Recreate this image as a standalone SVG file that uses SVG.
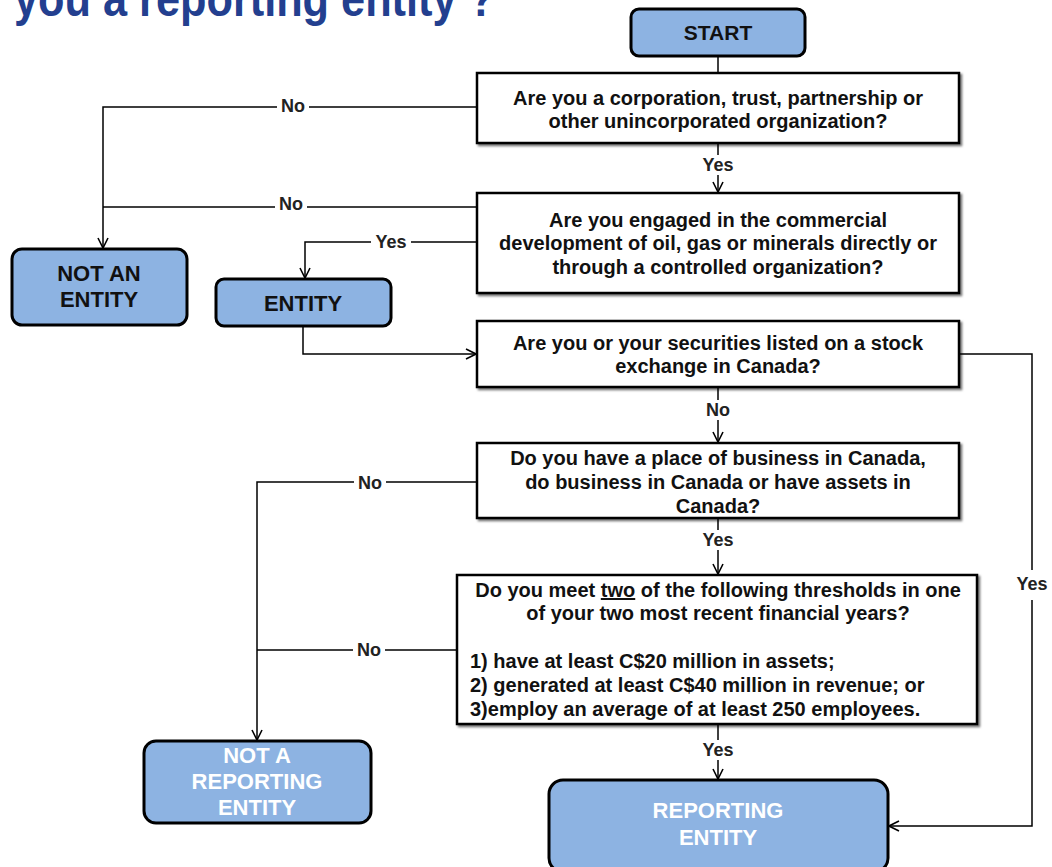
<svg xmlns="http://www.w3.org/2000/svg" width="1052" height="867" viewBox="0 0 1052 867">
<defs>
<marker id="arr" viewBox="0 0 12 12" refX="11" refY="6" markerWidth="12" markerHeight="12" markerUnits="userSpaceOnUse" orient="auto">
<path d="M1,1 L11,6 L1,11" fill="none" stroke="#000" stroke-width="1.6"/>
</marker>
<filter id="sh" x="-5%" y="-5%" width="115%" height="120%">
<feDropShadow dx="2" dy="2" stdDeviation="0.8" flood-color="#000" flood-opacity="0.55"/>
</filter>
</defs>
<style>
.box{fill:#fff;stroke:#000;stroke-width:2.5;filter:url(#sh)}
.term{fill:#8db3e2;stroke:#000;stroke-width:3}
.t{font-family:"Liberation Sans",Arial,sans-serif;font-weight:bold;font-size:20px;fill:#111;text-anchor:middle}
.tl{text-anchor:start}
.tt{font-family:"Liberation Sans",Arial,sans-serif;font-weight:bold;font-size:22px;fill:#111;text-anchor:middle}
.tw{fill:#fff}
.lbl{font-family:"Liberation Sans",Arial,sans-serif;font-weight:bold;font-size:18px;fill:#222;text-anchor:middle}
.c{fill:none;stroke:#000;stroke-width:1.5}
.bg{fill:#fff}
</style>
<rect width="1052" height="867" fill="#fff"/>
<text x="14" y="16" font-family="'Liberation Sans',Arial,sans-serif" font-weight="bold" font-size="50" fill="#233f8f" textLength="481" lengthAdjust="spacingAndGlyphs">you a reporting entity ?</text>

<g id="connectors">
<path class="c" d="M718,56 V73"/>
<path class="c" d="M477,107 H103 V248" marker-end="url(#arr)"/>
<path class="c" d="M477,207 H103"/>
<path class="c" d="M718,143 V192" marker-end="url(#arr)"/>
<path class="c" d="M477,242 H305 V278" marker-end="url(#arr)"/>
<path class="c" d="M303,326 V354 H476" marker-end="url(#arr)"/>
<path class="c" d="M959,354 H1032 V826 H889" marker-end="url(#arr)"/>
<path class="c" d="M718,387 V442" marker-end="url(#arr)"/>
<path class="c" d="M477,482 H257 V740" marker-end="url(#arr)"/>
<path class="c" d="M718,518 V574" marker-end="url(#arr)"/>
<path class="c" d="M457,650 H257"/>
<path class="c" d="M718,724 V779" marker-end="url(#arr)"/>
<rect class="bg" x="277" y="96" width="32" height="20"/>
<text class="lbl" x="293" y="112">No</text>
<rect class="bg" x="275" y="195" width="32" height="20"/>
<text class="lbl" x="291" y="210">No</text>
<rect class="bg" x="371" y="232" width="40" height="20"/>
<text class="lbl" x="391" y="248">Yes</text>
<rect class="bg" x="699" y="155" width="38" height="20"/>
<text class="lbl" x="718" y="171">Yes</text>
<rect class="bg" x="703" y="400" width="30" height="20"/>
<text class="lbl" x="718" y="416">No</text>
<rect class="bg" x="354" y="473" width="32" height="20"/>
<text class="lbl" x="370" y="489">No</text>
<rect class="bg" x="699" y="530" width="38" height="20"/>
<text class="lbl" x="718" y="546">Yes</text>
<rect class="bg" x="353" y="640" width="32" height="20"/>
<text class="lbl" x="369" y="656">No</text>
<rect class="bg" x="699" y="740" width="38" height="20"/>
<text class="lbl" x="718" y="756">Yes</text>
<rect class="bg" x="1012" y="570" width="40" height="30"/>
<text class="lbl" x="1032" y="590">Yes</text>
</g>

<g id="start">
<rect class="term" x="631" y="9" width="174" height="47" rx="8"/>
<text class="tt" x="718" y="40" style="font-size:21px">START</text>
</g>
<g id="q1">
<rect class="box" x="477" y="73" width="482" height="70"/>
<text class="t" x="718" y="105">Are you a corporation, trust, partnership or</text>
<text class="t" x="718" y="128">other unincorporated organization?</text>
</g>
<g id="q2">
<rect class="box" x="477" y="193" width="482" height="100"/>
<text class="t" x="718" y="227">Are you engaged in the commercial</text>
<text class="t" x="718" y="250">development of oil, gas or minerals directly or</text>
<text class="t" x="718" y="274">through a controlled organization?</text>
</g>
<g id="not-an-entity">
<rect class="term" x="12" y="249" width="175" height="76" rx="10"/>
<text class="tt" x="99" y="281">NOT AN</text>
<text class="tt" x="99" y="307">ENTITY</text>
</g>
<g id="entity">
<rect class="term" x="216" y="279" width="175" height="47" rx="8"/>
<text class="tt" x="303" y="311">ENTITY</text>
</g>
<g id="q3">
<rect class="box" x="477" y="321" width="482" height="66"/>
<text class="t" x="718" y="350">Are you or your securities listed on a stock</text>
<text class="t" x="718" y="373">exchange in Canada?</text>
</g>
<g id="q4">
<rect class="box" x="477" y="443" width="482" height="75"/>
<text class="t" x="718" y="465">Do you have a place of business in Canada,</text>
<text class="t" x="718" y="489">do business in Canada or have assets in</text>
<text class="t" x="718" y="513">Canada?</text>
</g>
<g id="q5">
<rect class="box" x="457" y="575" width="520" height="149"/>
<text class="t" x="718" y="597">Do you meet <tspan text-decoration="underline">two</tspan> of the following thresholds in one</text>
<text class="t" x="718" y="620">of your two most recent financial years?</text>
<text class="t tl" x="470" y="668">1) have at least C$20 million in assets;</text>
<text class="t tl" x="470" y="692">2) generated at least C$40 million in revenue; or</text>
<text class="t tl" x="470" y="716">3)employ an average of at least 250 employees.</text>
</g>
<g id="not-reporting">
<rect class="term" x="144" y="741" width="227" height="82" rx="12"/>
<text class="tt tw" x="257" y="763">NOT A</text>
<text class="tt tw" x="257" y="789">REPORTING</text>
<text class="tt tw" x="257" y="815">ENTITY</text>
</g>
<g id="reporting">
<rect class="term" x="549" y="780" width="339" height="92" rx="14"/>
<text class="tt tw" x="718" y="818">REPORTING</text>
<text class="tt tw" x="718" y="845">ENTITY</text>
</g>
</svg>
